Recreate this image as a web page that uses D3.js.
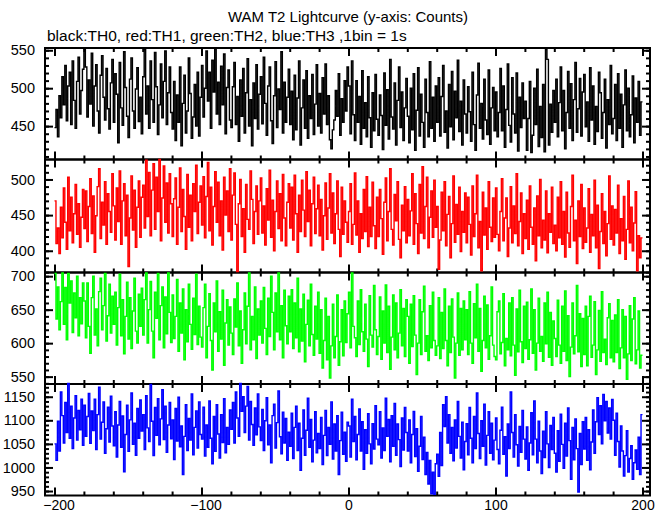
<!DOCTYPE html>
<html>
<head>
<meta charset="utf-8">
<script src="https://cdn.jsdelivr.net/npm/d3@7"></script>
<style>
  html, body { margin: 0; padding: 0; background: #fff; }
  svg { display: block; }
  text { font-family: "Liberation Sans", Arial, sans-serif; fill: #000; }
</style>
</head>
<body>
<svg id="chart" width="669" height="515"></svg>
<script>
// ---------------- DATA ----------------
const titleText = "WAM T2 Lightcurve (y-axis: Counts)";
const subtitleText = "black:TH0, red:TH1, green:TH2, blue:TH3 ,1bin = 1s";
const timeStart = -200;   // first bin start (s), 1 bin = 1 s
const xTickLabels = [-200, -100, 0, 100, 200];

const th0 = [
448,472,436,490,461,515,478,530,457,503,521,452,536,484,447,509,541,466,497,525,
552,528,462,511,479,546,450,503,531,470,441,517,543,488,458,526,473,446,507,538,
455,519,492,428,534,474,451,548,501,463,435,512,540,470,447,499,527,456,488,440,
515,551,466,503,447,536,485,455,547,502,439,478,532,461,509,549,452,494,528,468,
446,509,431,491,455,528,424,480,517,441,470,540,493,434,462,505,450,521,437,488,
530,462,500,549,483,521,447,537,495,552,466,508,452,529,478,545,440,501,524,458,
448,502,534,452,489,430,511,463,526,441,494,539,450,485,424,507,460,531,446,492,
515,453,541,480,438,503,528,457,427,490,535,448,499,472,548,441,508,455,488,525,
452,496,432,517,445,487,536,425,474,511,447,523,434,490,460,518,439,479,531,450,
493,441,514,466,532,452,490,432,420,445,458,497,463,519,438,486,455,510,470,528,
503,440,536,465,431,510,455,489,426,523,447,481,436,515,461,422,494,444,518,459,
438,491,464,419,520,451,498,433,538,462,446,507,425,484,528,448,495,431,474,513,
463,428,500,445,519,418,471,527,437,492,455,422,512,468,436,535,447,488,430,503,
455,514,437,489,530,442,470,421,505,449,522,432,496,461,537,443,483,425,511,466,
441,502,469,430,521,452,418,491,533,447,480,433,512,458,439,524,426,474,501,444,
495,436,468,526,444,503,422,472,532,451,429,514,466,441,520,417,488,448,507,460,
483,418,460,509,415,438,500,452,525,423,476,435,505,416,551,538,425,479,442,497,
455,512,436,481,528,444,497,420,468,522,447,506,431,485,534,442,473,513,437,495,
518,449,482,430,527,458,503,426,476,443,521,494,434,468,512,421,485,452,530,440,
460,505,431,519,447,492,422,478,524,444,500,436,465,516,428,487,455,509,438,482
];

const th1 = [
470,410,432,396,461,418,488,440,402,503,428,475,411,452,493,423,466,405,447,486,
431,484,413,462,501,424,477,398,449,490,515,417,468,436,497,409,480,455,426,508,
463,415,488,441,512,409,470,494,421,478,378,446,505,429,485,405,461,498,419,475,
492,432,527,448,510,421,485,522,430,503,455,528,414,474,519,440,495,425,508,466,
420,473,502,409,461,516,427,486,448,402,507,433,478,414,494,455,520,424,468,491,
436,504,418,476,524,428,489,408,462,511,440,496,421,470,401,503,450,484,427,515,
415,478,509,437,371,466,500,420,459,398,493,444,430,512,472,410,455,491,423,470,
502,425,463,408,487,443,513,419,471,400,455,498,431,480,414,507,446,407,468,494,
432,489,415,506,452,398,478,427,499,457,420,511,441,485,407,466,503,424,459,492,
421,472,401,449,495,416,460,508,425,481,410,452,498,430,392,489,423,470,440,412,
455,494,409,437,509,422,470,398,452,417,486,427,504,406,461,420,496,435,403,475,
420,486,445,395,468,502,414,455,515,430,408,479,442,497,416,390,464,428,490,411,
472,421,456,508,409,480,438,396,493,425,518,417,462,503,404,447,484,419,499,433,
462,374,415,482,428,497,407,451,476,390,438,505,412,465,423,489,399,455,426,481,
411,475,437,394,491,420,452,506,404,441,372,482,422,460,402,497,433,413,474,419,
488,423,400,455,501,414,446,474,392,432,490,411,463,424,508,407,441,481,396,452,
417,471,402,491,433,409,460,386,477,421,500,404,443,415,484,397,452,426,489,410,
436,400,475,418,497,409,455,391,482,425,405,462,506,414,443,382,470,420,493,403,
460,412,432,487,398,451,421,499,404,464,375,427,480,410,455,393,438,505,416,463,
408,458,425,492,396,445,414,476,388,430,498,411,461,400,439,483,372,421,390,418
];

const th2 = [
704,636,684,620,662,705,628,683,605,704,660,693,616,675,638,700,611,668,629,690,
663,608,690,625,585,668,700,612,651,596,677,697,620,656,704,603,641,688,615,670,
628,676,597,653,703,611,665,584,640,691,606,668,592,648,697,618,600,673,625,682,
612,665,705,600,650,692,618,578,676,637,704,605,656,684,593,669,614,705,646,601,
672,607,640,695,588,660,615,681,575,650,602,688,628,591,667,613,703,598,655,609,
594,653,688,578,625,674,604,560,660,617,693,588,647,606,679,567,630,665,597,654,
615,583,666,624,690,596,648,570,620,675,599,655,705,590,640,605,684,577,651,612,
663,600,683,622,583,667,610,700,646,590,675,617,705,605,656,578,679,626,599,670,
617,680,592,660,608,697,587,651,603,673,572,628,664,596,688,613,582,655,606,676,
585,650,563,604,667,575,640,548,596,658,578,610,672,567,602,650,581,663,601,644,
676,593,705,625,608,580,663,598,680,617,588,658,606,565,671,612,594,686,620,583,
610,669,576,648,600,687,586,655,561,609,672,590,660,578,615,680,596,652,580,665,
640,570,658,595,671,612,553,600,665,583,647,685,588,611,574,656,593,676,604,582,
596,668,577,646,592,681,604,566,655,586,666,609,548,600,675,582,652,590,663,605,
650,583,677,600,570,659,608,688,588,652,558,604,670,593,657,576,611,684,597,580,
575,647,663,584,601,674,566,607,590,660,581,668,597,552,651,587,679,602,571,655,
592,661,576,605,681,585,650,560,600,667,588,610,573,660,599,676,579,646,567,633,
607,580,664,597,570,655,588,678,574,641,550,594,660,584,611,686,587,644,565,637,
583,655,566,640,670,579,597,662,553,590,649,573,677,586,606,568,638,659,578,634,
572,642,586,665,562,593,650,578,640,546,584,656,574,636,668,569,590,648,563,582
];

const th3 = [
1050,1015,1098,1035,1160,1110,1052,1138,1074,1178,1062,1130,1040,1105,1152,1058,1121,1080,1145,1047,
1132,1066,1108,1157,1051,1120,1078,1145,1038,1112,1170,1060,1096,1139,1030,1082,1128,1054,1151,1088,
1046,1118,1022,1090,1140,1043,1109,991,1070,1132,1034,1101,1158,1049,1094,1026,1125,1062,1143,1077,
1112,1038,1152,1084,1055,1176,1098,1025,1127,1068,1146,1048,1103,1165,1059,1130,1032,1090,1138,1061,
1101,1017,1125,1056,1149,1044,1088,985,1066,1133,1036,1104,1058,1156,1027,1085,1120,1041,1139,1070,
1060,1128,1024,1090,1043,1141,1062,1008,1108,1034,1133,1071,1020,1112,1053,1146,1031,1085,1049,1122,
1081,1138,1052,1160,1105,1066,1178,1119,1150,1074,1130,1172,1058,1140,1091,1047,1126,1069,1156,1086,
1057,1123,1036,1099,1148,1048,1090,1010,1110,1134,1041,1095,1162,1065,1029,1117,1052,1104,1015,1075,
1045,1115,1019,1085,1130,1036,1094,994,1062,1122,1026,1079,1147,1043,1102,1012,1058,1118,1031,1072,
1040,1106,1006,1068,1121,1025,1085,1049,1139,1018,1092,1035,1110,985,1057,1117,1028,1075,1013,1096,
1088,1022,1145,1055,1108,1016,1070,1124,1035,1097,996,1080,1030,1114,1050,1008,1093,1039,1131,1060,
1048,1118,1020,1084,1036,1147,1066,1102,1012,1110,1045,1136,1026,1092,1059,1002,1105,1037,1127,1074,
1035,1101,1010,1070,1119,1023,1082,992,1045,1108,1017,1064,985,1032,965,1015,944,990,943,1008,
1028,981,1074,1004,1133,1087,1150,1052,1112,1030,1085,1014,1101,1041,1140,1066,1020,1096,995,1055,
1093,1027,1127,1062,1010,1108,1040,1158,1072,1019,1099,1045,1134,1005,1068,1118,1030,1094,1016,1058,
1105,1038,1008,1079,1128,1028,1065,982,1092,1040,1160,1074,1022,1112,1048,1003,1087,1032,1121,1060,
1018,1086,994,1052,1116,1027,1141,1060,1010,1098,1035,987,1077,1021,1118,1050,1000,1089,1038,1106,
1030,990,1078,1013,1113,1049,998,1094,1024,1126,1057,975,1085,1016,1103,1040,948,1072,1006,1097,
1039,1106,1015,1080,995,1054,1122,1030,1097,1148,1070,1131,1050,1155,1099,1140,1073,1126,1060,1144,
1100,1026,1115,1055,1001,1088,1035,982,1025,1078,990,1019,1046,975,1010,1037,996,1064,985,1112
];

const seriesColors = ["#000000", "#ff0000", "#00ff00", "#0000ff"];
const yDomains = [[406, 553], [369.5, 528], [539, 705.5], [940.5, 1177]];
const yMajorTicks = [[450, 500, 550], [400, 450, 500], [550, 600, 650, 700], [950, 1000, 1050, 1100, 1150]];

// ---------------- LAYOUT ----------------
const svg = d3.select("#chart");
const frameL = 45, frameR = 650;
const panelEdges = [48, 159.5, 272.5, 384, 495.5];
const x = d3.scaleLinear().domain([-200, 200]).range([54.5, 642.5]);
const allSeries = [th0, th1, th2, th3];
const fontSize = 14.5;
const fontFam = '"Liberation Sans", Arial, sans-serif';

svg.append("text").attr("x", 348).attr("y", 22).attr("text-anchor", "middle")
  .style("font-size", "15px").text(titleText);
svg.append("text").attr("x", 47).attr("y", 41)
  .style("font-size", "15.5px").text(subtitleText);

const xMinor = d3.range(-200, 201, 20);
const frameG = svg.append("g");
const dataG = svg.append("g");

allSeries.forEach((vals, p) => {
  const top = panelEdges[p], bot = panelEdges[p + 1];
  const y = d3.scaleLinear().domain(yDomains[p]).range([bot, top]);
  const lo = Math.ceil(yDomains[p][0] / 10) * 10;
  const yMinor = d3.range(lo, yDomains[p][1], 10);

  const g = frameG.append("g");
  const axL = g.append("g").attr("transform", `translate(${frameL},0)`)
    .call(d3.axisLeft(y).tickValues(yMajorTicks[p]).tickSize(-8).tickPadding(10).tickFormat(d3.format("d")));
  axL.selectAll("text").style("font-size", fontSize + "px").style("font-family", fontFam);
  g.append("g").attr("transform", `translate(${frameL},0)`)
    .call(d3.axisLeft(y).tickValues(yMinor).tickSize(-4).tickFormat(""));
  g.append("g").attr("transform", `translate(${frameR},0)`)
    .call(d3.axisRight(y).tickValues(yMajorTicks[p]).tickSize(-8).tickFormat(""));
  g.append("g").attr("transform", `translate(${frameR},0)`)
    .call(d3.axisRight(y).tickValues(yMinor).tickSize(-4).tickFormat(""));
  [[top, d3.axisTop], [bot, d3.axisBottom]].forEach(([yy, ax]) => {
    g.append("g").attr("transform", `translate(0,${yy})`)
      .call(ax(x).tickValues(xTickLabels).tickSize(-8).tickFormat(""));
    g.append("g").attr("transform", `translate(0,${yy})`)
      .call(ax(x).tickValues(xMinor).tickSize(-4).tickFormat(""));
  });
  g.selectAll(".domain").remove();
  g.selectAll(".tick line").attr("stroke", "#000").attr("stroke-width", 2);
  g.append("rect").attr("x", frameL).attr("y", top).attr("width", frameR - frameL).attr("height", bot - top)
    .attr("fill", "none").attr("stroke", "#000").attr("stroke-width", 2);

  const pts = vals.map((v, i) => [timeStart + i, v]);
  pts.push([timeStart + vals.length, vals[vals.length - 1]]);
  const line = d3.line().x(d => x(d[0])).y(d => y(d[1])).curve(d3.curveStepAfter);
  dataG.append("path").attr("d", line(pts)).attr("fill", "none")
    .attr("stroke", seriesColors[p]).attr("stroke-width", 1.4);
});

const bottomAxis = svg.append("g").attr("transform", `translate(0,${panelEdges[4]})`)
  .call(d3.axisBottom(x).tickValues(xTickLabels).tickSize(0).tickPadding(5)
    .tickFormat(d => (d < 0 ? "\u2212" : "") + Math.abs(d)));
bottomAxis.select(".domain").remove();
bottomAxis.selectAll("text").style("font-size", "14px").style("font-family", fontFam)
  .attr("dx", d => d < 0 ? 4 : 0);
</script>
</body>
</html>
